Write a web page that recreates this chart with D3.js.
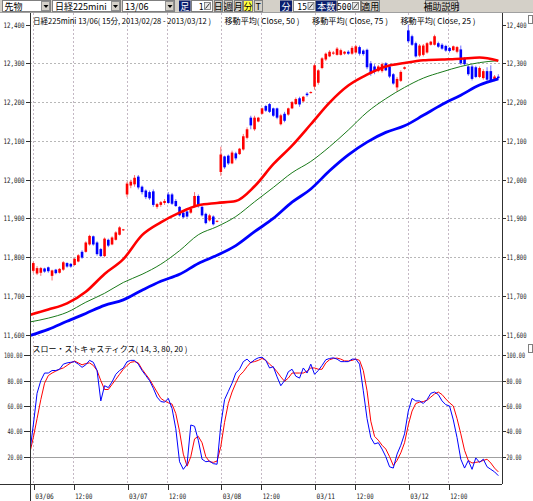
<!DOCTYPE html>
<html>
<head>
<meta charset="utf-8">
<script src="https://cdn.jsdelivr.net/npm/d3@7"></script>
<style>
body { margin: 0; background: #fff; overflow: hidden; }
svg { display: block; }
</style>
</head>
<body>
<svg id="chart" width="533" height="501"></svg>
<script>
// 15分足 (日中), 03/06 9:00 から 1本ずつ
const open  = [11765,11758,11760,11771,11774,11752,11768,11760,11768,11785,11783,11780,11789,11814,11814,11833,11854,11838,11821,11803,11845,11833,11845,11858,11870,
               11962,11985,11988,12008,11982,11972,11968,11970,11930,11935,11940,11962,11962,11945,11930,11915,11918,11915,11930,11958,11930,11912,11895,11905,11892,
               12020,12060,12062,12042,12068,12066,12078,12108,12160,12130,12150,12170,12190,12195,12184,12184,12143,12170,12168,12184,12195,12210,12202,12222,12224,
               12240,12250,12288,12310,12318,12325,12322,12322,12325,12330,12325,12328,12342,12333,12335,12300,12292,12280,12280,12300,12292,12272,12238,12255,12286,
               12385,12370,12352,12320,12322,12328,12348,12348,12352,12348,12345,12340,12334,12330,12336,12312,12292,12292,12290,12265,12262,12280,12280,12256,12266];
const high  = [11789,11777,11775,11773,11776,11768,11770,11772,11790,11787,11785,11798,11808,11818,11841,11858,11856,11841,11824,11851,11848,11854,11867,11880,11873,
               11995,12000,12012,12012,11985,11975,11972,11975,11940,11945,11950,11968,11966,11950,11932,11918,11920,11930,11968,11962,11932,11915,11912,11908,11895,
               12085,12062,12065,12075,12072,12082,12118,12135,12165,12165,12162,12186,12193,12198,12186,12186,12170,12175,12186,12203,12212,12214,12216,12226,12228,
               12300,12285,12316,12328,12334,12332,12342,12338,12332,12334,12345,12348,12346,12336,12338,12306,12298,12296,12302,12303,12295,12275,12265,12282,12292,
               12400,12374,12356,12350,12350,12355,12358,12374,12356,12352,12348,12342,12346,12345,12346,12316,12295,12296,12294,12292,12285,12290,12295,12270,12272];
const low   = [11760,11754,11752,11760,11760,11740,11756,11758,11765,11773,11773,11778,11787,11796,11812,11830,11830,11804,11800,11800,11826,11831,11843,11856,11868,
               11955,11978,11982,11975,11962,11950,11948,11930,11925,11930,11935,11938,11935,11930,11905,11900,11902,11912,11928,11928,11905,11885,11892,11882,11890,
               12010,12028,12038,12040,12050,12064,12075,12104,12130,12126,12148,12168,12175,12172,12162,12156,12140,12148,12165,12182,12193,12188,12200,12214,12222,
               12232,12245,12285,12306,12316,12322,12320,12320,12322,12322,12322,12325,12320,12320,12285,12268,12272,12277,12276,12280,12262,12245,12228,12252,12284,
               12352,12345,12315,12316,12318,12325,12346,12346,12340,12335,12330,12328,12332,12326,12296,12295,12268,12256,12262,12262,12258,12255,12252,12254,12258];
const close = [11785,11772,11772,11763,11764,11766,11759,11770,11787,11776,11776,11796,11805,11799,11838,11855,11833,11808,11803,11848,11830,11851,11864,11877,11872,
               11990,11995,12005,11980,11968,11955,11952,11935,11937,11942,11945,11940,11938,11932,11908,11903,11905,11925,11958,11932,11908,11888,11908,11885,11894,
               12065,12032,12042,12070,12055,12080,12112,12130,12140,12160,12160,12184,12178,12175,12165,12160,12166,12152,12184,12200,12208,12194,12214,12218,12226,
               12295,12282,12313,12325,12330,12328,12338,12334,12330,12325,12340,12344,12325,12324,12290,12274,12278,12292,12298,12282,12266,12248,12260,12278,12290,
               12357,12348,12318,12346,12346,12352,12356,12370,12343,12338,12333,12332,12344,12342,12300,12298,12272,12260,12265,12288,12280,12258,12256,12266,12262];

// 移動平均 (5本おきに読み取り)
const maIndex = [-1,4,9,14,19,24,29,34,39,44,49,54,59,64,69,74,79,84,89,94,99,104,109,114,119,124];
const ma50 = [11651,11665,11681,11711,11757,11795,11857,11890,11915,11934,11940,11945,11983,12040,12088,12143,12199,12243,12271,12292,12301,12308,12310,12312,12315,12307];
const ma75 = [11633,11643,11658,11684,11707,11735,11756,11782,11817,11858,11879,11905,11943,11980,12018,12047,12085,12128,12174,12209,12238,12262,12278,12292,12302,12307];
const ma25 = [11598,11614,11635,11655,11676,11690,11715,11738,11756,11784,11805,11830,11866,11900,11942,11976,12023,12064,12097,12122,12139,12166,12194,12218,12244,12260];

// スロー・ストキャスティクス (index -1 から)
const stochK = [22,45,70,80,86,86,88,88,89,93,94,94.5,95,93,90.5,92.5,96,94.5,88,64,76,74.5,79,85,88,90,
                95,96,96,93,88,84,80,74,67,63.5,63,66,58,42,16,10,14,45,44,33,18,16,16.5,14.5,14,
                45,65,71.5,78,86,89,95,97,94,96.5,98,98.5,96,90,91,83,76,80,87,89,83.5,82,90,86,93,
                85,88,92,96.5,97.5,98,97,95,95,95,97,97,93,72,50,35,30,31,26,20,12,11,22,29,38,
                56,66,64,64,62,65,70,71,69,64,61,60,49,35,18,11,17,10,19,15.5,18,12,10,8,5];
const stochD = [22,35,50,65,78,84,86,87.5,89,90,92,94,95.5,94,92.5,93.5,94,92,88,80,73,73,77,81,85,89,
                92,94.5,95,94,89,85,81,76,71,66,64,62.5,61.5,54,40,22,12.5,20,34,36,31,20,16,15.5,16.5,
                28,47,62,71,78,84,87,91,94.5,95,96,97.5,96,93,90.5,87,83,79.5,82,86,86,86,86,87.5,90,
                90,89,89,94,96.5,97.5,97.8,97,95.6,95.5,96,97,96,88,72,48,36,33,29,26,20,13,17,23,31,
                45,56,62,63,63.5,64.5,67,69.5,71,69,65.5,62.5,60,50,38,25,17,15,15.5,16,17,18,15,11,8];

const tickPos    = [0, 10.67, 25, 35.67, 50, 60.67, 75, 85.67, 100, 110.67];
const tickLabels = ["03/06","12:00","03/07","12:00","03/08","12:00","03/11","12:00","03/12","12:00"];
const priceTicks = [11600,11700,11800,11900,12000,12100,12200,12300,12400];
const stochTicks = [20,40,60,80,100];

const W = 533, H = 501;
const L = 30, R = 502, TOP = 12.5, SEP = 341, BOT = 484;
const svg = d3.select("#chart");

const x = d3.scaleLinear().domain([0, 100]).range([33.3, 408.3]);
const yP = d3.scaleLinear().domain([11600, 12400]).range([334.8, 24.6]);
const yS = d3.scaleLinear().domain([0, 100]).range([482, 355.3]);

const mono = "'DejaVu Sans Mono', monospace";
const jp = "'Noto Sans CJK JP', sans-serif";

svg.append("rect").attr("width", W).attr("height", H).attr("fill", "#fff");

svg.append("defs").call(d => {
    d.append("clipPath").attr("id", "pClip").append("rect")
        .attr("x", L + 0.5).attr("y", TOP).attr("width", R - L - 1).attr("height", SEP - TOP);
    d.append("clipPath").attr("id", "sClip").append("rect")
        .attr("x", L + 0.5).attr("y", SEP).attr("width", R - L - 1).attr("height", BOT - SEP);
});

// grid
const grid = svg.append("g").attr("shape-rendering", "crispEdges");
priceTicks.filter(v => v < 12400).forEach(v => {
    grid.append("line").attr("x1", L).attr("x2", R).attr("y1", Math.round(yP(v)) + 0.5).attr("y2", Math.round(yP(v)) + 0.5)
        .attr("stroke", "#b8b8b8").attr("stroke-dasharray", "2,2");
});
stochTicks.forEach(v => {
    const solid = (v === 80 || v === 20);
    grid.append("line").attr("x1", L).attr("x2", R).attr("y1", Math.round(yS(v)) + 0.5).attr("y2", Math.round(yS(v)) + 0.5)
        .attr("stroke", solid ? "#a0a0a0" : "#b8b8b8").attr("stroke-dasharray", solid ? null : "2,2");
});
tickPos.forEach(t => {
    grid.append("line").attr("x1", Math.round(x(t)) + 0.5).attr("x2", Math.round(x(t)) + 0.5).attr("y1", TOP).attr("y2", BOT)
        .attr("stroke", "#c4b8c4").attr("stroke-dasharray", "2,2");
});

// candles
const cg = svg.append("g").attr("clip-path", "url(#pClip)");
close.forEach((c, i) => {
    const up = c >= open[i];
    const col = up ? "#ff0000" : "#0000ff";
    const cx = x(i);
    cg.append("line").attr("x1", cx).attr("x2", cx).attr("y1", yP(high[i])).attr("y2", yP(low[i]))
        .attr("stroke", up ? "#ff7070" : "#7070ff").attr("stroke-width", 1);
    const y0 = yP(Math.max(open[i], c)), y1 = yP(Math.min(open[i], c));
    cg.append("rect").attr("x", cx - 1.3).attr("width", 2.6)
        .attr("y", y0).attr("height", Math.max(1, y1 - y0)).attr("fill", col);
});

// moving averages
const maLine = d3.line().x(d => x(d[0])).y(d => yP(d[1])).curve(d3.curveMonotoneX);
const maGroup = svg.append("g").attr("clip-path", "url(#pClip)").attr("fill", "none");
maGroup.append("path").attr("d", maLine(maIndex.map((i, k) => [i, ma75[k]])))
    .attr("stroke", "#1a7a1a").attr("stroke-width", 1);
maGroup.append("path").attr("d", maLine(maIndex.map((i, k) => [i, ma50[k]])))
    .attr("stroke", "#ff0000").attr("stroke-width", 2.6);
maGroup.append("path").attr("d", maLine(maIndex.map((i, k) => [i, ma25[k]])))
    .attr("stroke", "#0000ff").attr("stroke-width", 2.8);

// stochastics
const stLine = d3.line().x((d, i) => x(i - 1)).y(d => yS(d));
const sg = svg.append("g").attr("clip-path", "url(#sClip)").attr("fill", "none");
sg.append("path").attr("d", stLine(stochD)).attr("stroke", "#ff0000").attr("stroke-width", 1);
sg.append("path").attr("d", stLine(stochK)).attr("stroke", "#0000ff").attr("stroke-width", 1);

// frame
const frame = svg.append("g").attr("stroke", "#303030").attr("shape-rendering", "crispEdges");
frame.append("line").attr("x1", L + 0.5).attr("x2", L + 0.5).attr("y1", TOP).attr("y2", H);
frame.append("line").attr("x1", R + 0.5).attr("x2", R + 0.5).attr("y1", TOP).attr("y2", BOT);
frame.append("line").attr("x1", 0).attr("x2", R).attr("y1", BOT + 0.5).attr("y2", BOT + 0.5);

// axes
function styleAxis(g, len) {
    g.select(".domain").remove();
    g.selectAll(".tick line").attr("stroke", "#303030").attr("shape-rendering", "crispEdges");
    g.selectAll(".tick text").attr("font-family", mono).attr("font-size", 7.5).attr("fill", "#222")
        .attr("textLength", len).attr("lengthAdjust", "spacingAndGlyphs");
}
svg.append("g").attr("transform", `translate(${L + 0.5},0)`)
    .call(d3.axisLeft(yP).tickValues(priceTicks).tickFormat(d3.format(",")).tickSize(5).tickPadding(1))
    .call(g => styleAxis(g, 21));
svg.append("g").attr("transform", `translate(${R + 0.5},0)`)
    .call(d3.axisRight(yP).tickValues(priceTicks).tickFormat(d3.format(",")).tickSize(3).tickPadding(1))
    .call(g => styleAxis(g, 20));
svg.append("g").attr("transform", `translate(${L + 0.5},0)`)
    .call(d3.axisLeft(yS).tickValues(stochTicks).tickFormat(d3.format(".2f")).tickSize(7).tickPadding(1))
    .call(g => styleAxis(g, d => d === 100 ? 18.5 : 15));
svg.append("g").attr("transform", `translate(${R + 0.5},0)`)
    .call(d3.axisRight(yS).tickValues(stochTicks).tickFormat(d3.format(".2f")).tickSize(3).tickPadding(1))
    .call(g => styleAxis(g, d => d === 100 ? 18.5 : 15));
svg.append("g").attr("transform", `translate(0,${BOT + 0.5})`)
    .call(d3.axisBottom(x).tickValues(tickPos).tickFormat((d, i) => tickLabels[i]).tickSize(5))
    .call(g => {
        styleAxis(g, (d, i) => i % 2 === 0 ? 18.5 : 17);
        g.selectAll(".tick line").attr("transform", "translate(0.5,0)");
        g.selectAll(".tick text").attr("text-anchor", "start").attr("x", 1.5).attr("y", 14).attr("dy", 0);
    });

// pane titles
const titles = svg.append("g").attr("font-family", jp).attr("font-size", 8).attr("fill", "#000");
titles.append("text").attr("x", 33).attr("y", 23.5).attr("textLength", 178).attr("lengthAdjust", "spacingAndGlyphs")
    .text("日経225mini 13/06( 15分, 2013/02/28 - 2013/03/12 )");
titles.append("text").attr("x", 224.5).attr("y", 23.5).attr("textLength", 75).attr("lengthAdjust", "spacingAndGlyphs")
    .text("移動平均( Close, 50 )");
titles.append("text").attr("x", 312).attr("y", 23.5).attr("textLength", 76).attr("lengthAdjust", "spacingAndGlyphs")
    .text("移動平均( Close, 75 )");
titles.append("text").attr("x", 400.5).attr("y", 23.5).attr("textLength", 75).attr("lengthAdjust", "spacingAndGlyphs")
    .text("移動平均( Close, 25 )");
titles.append("text").attr("x", 32.5).attr("y", 352).attr("textLength", 155).attr("lengthAdjust", "spacingAndGlyphs")
    .text("スロー・ストキャスティクス( 14, 3, 80, 20 )");

// little pane markers on the right edge
[[528.5, 15.5], [528.5, 344.5]].forEach(p => {
    svg.append("rect").attr("x", p[0]).attr("y", p[1]).attr("width", 4).attr("height", 8)
        .attr("fill", "#fff").attr("stroke", "#808080").attr("shape-rendering", "crispEdges");
});

// toolbar
const tb = svg.append("g").attr("font-family", jp).attr("font-size", 9);
tb.append("rect").attr("width", W).attr("height", 12).attr("fill", "#d4d0c8");
tb.append("line").attr("x1", 0).attr("x2", W).attr("y1", 12.5).attr("y2", 12.5).attr("stroke", "#a0a0a0").attr("shape-rendering", "crispEdges");

function combo(x0, x1, label) {
    tb.append("rect").attr("x", x0 + 0.5).attr("y", 0.5).attr("width", x1 - x0 - 1).attr("height", 11)
        .attr("fill", "#fff").attr("stroke", "#808080").attr("shape-rendering", "crispEdges");
    tb.append("rect").attr("x", x1 - 9.5).attr("y", 1.5).attr("width", 8).attr("height", 9)
        .attr("fill", "#d4d0c8").attr("stroke", "#909090").attr("shape-rendering", "crispEdges");
    tb.append("path").attr("d", `M${x1 - 7.5},5 h5 l-2.5,3 z`).attr("fill", "#000");
    tb.append("text").attr("x", x0 + 3).attr("y", 9.5).attr("fill", "#000").text(label);
}
function dark(x0, x1, label) {
    tb.append("rect").attr("x", x0).attr("y", 0.5).attr("width", x1 - x0).attr("height", 11).attr("fill", "#0a1f6e");
    tb.append("text").attr("x", (x0 + x1) / 2).attr("y", 9.5).attr("text-anchor", "middle").attr("fill", "#fff").text(label);
}
function field(x0, x1, label) {
    tb.append("rect").attr("x", x0 + 0.5).attr("y", 0.5).attr("width", x1 - x0 - 1).attr("height", 11)
        .attr("fill", "#fff").attr("stroke", "#808080").attr("shape-rendering", "crispEdges");
    tb.append("text").attr("x", x1 - 9).attr("y", 9.5).attr("text-anchor", "end").attr("font-family", mono)
        .attr("font-size", 8).attr("fill", "#000").text(label);
    tb.append("rect").attr("x", x1 - 8).attr("y", 2.5).attr("width", 6).attr("height", 7)
        .attr("fill", "#e8e8e8").attr("stroke", "#707070").attr("stroke-width", 0.8);
    tb.append("path").attr("d", `M${x1 - 7},8.5 L${x1 - 3},3.5`).attr("stroke", "#000").attr("stroke-width", 0.8);
}
function button(x0, x1, label, bg) {
    tb.append("rect").attr("x", x0 + 0.5).attr("y", 0.5).attr("width", x1 - x0 - 1).attr("height", 11)
        .attr("fill", bg || "#d4d0c8").attr("stroke", "#808080").attr("shape-rendering", "crispEdges");
    tb.append("text").attr("x", (x0 + x1) / 2).attr("y", 9.5).attr("text-anchor", "middle").attr("fill", "#000").text(label);
}

combo(1.5, 51, "先物");
combo(52, 120.5, "日経225mini");
combo(122, 175, "13/06");
dark(179, 190.5, "足");
field(191, 212.5, "1");
button(213.5, 223, "日");
button(223.5, 233, "週");
button(233.5, 243, "月");
button(243, 253, "分", "#ffff40");
button(253.5, 263, "T");
dark(280, 292, "分");
field(292.5, 316, "15");
dark(316, 336.5, "本数");
field(336.5, 360.5, "500");
button(361, 379.5, "適用");
button(425, 458, "補助説明");
</script>
</body>
</html>
